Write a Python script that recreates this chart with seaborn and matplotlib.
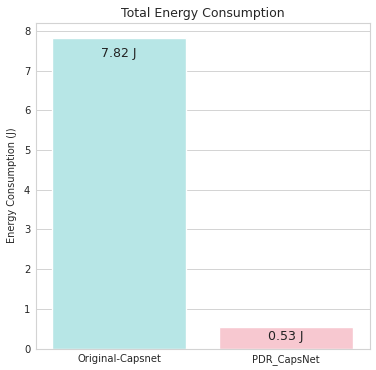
import matplotlib
matplotlib.use("Agg")
import matplotlib.pyplot as plt
import seaborn as sns
import pandas as pd

models = ["Original-Capsnet", "PDR_CapsNet"]
energy = [7.82, 0.53]
bar_colors = ["paleturquoise", "pink"]

sns.set_theme(style="whitegrid", rc={"grid.linewidth": 0.7, "axes.linewidth": 0.8,
                                     "grid.color": "#d3d3d3", "axes.edgecolor": "#d3d3d3"})
df = pd.DataFrame({"Model": models, "Energy": energy})

fig = plt.figure(figsize=(3.76, 3.70), dpi=100)
ax = fig.add_axes([0.095, 0.058, 0.888, 0.881])
sns.barplot(data=df, x="Model", y="Energy", hue="Model", palette=bar_colors,
            legend=False, ax=ax)
ax.set_ylim(0, max(energy) * 1.05)
ax.set_yticks(range(0, 9))
ax.set_title("Total Energy Consumption", fontsize=9, pad=4)
ax.set_ylabel("Energy Consumption (J)", fontsize=7, labelpad=5)
ax.set_xlabel("")
ax.tick_params(axis="both", labelsize=7.2, length=0, pad=4)

offsets = [-11, -6.5]
for i, (v, off) in enumerate(zip(energy, offsets)):
    ax.annotate(f"{v:.2f} J", xy=(i, v), xytext=(0, off), textcoords="offset points",
                ha="center", va="center", fontsize=9, color="#222222")

fig.savefig("out.png", dpi=100)
